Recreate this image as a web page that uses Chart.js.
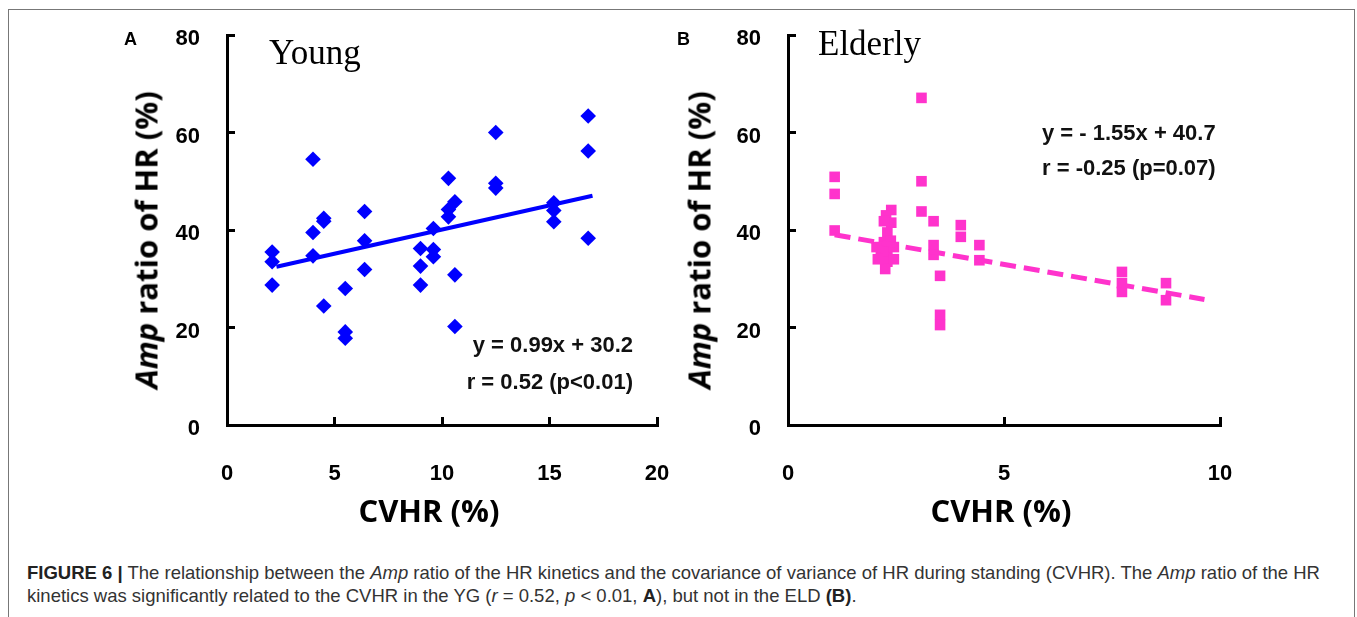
<!DOCTYPE html>
<html>
<head>
<meta charset="utf-8">
<script src="https://cdn.jsdelivr.net/npm/chart.js@4.4.1/dist/chart.umd.min.js"></script>
<style>
  body { margin: 0; background: #fff; }
  #fig { position: relative; width: 1357px; height: 617px; overflow: hidden; background: #fff;
         font-family: "Liberation Sans", Arial, sans-serif; }
  .frame { position: absolute; left: 8px; top: 9px; width: 1345px; height: 700px; border: 1px solid #777; }
  canvas { position: absolute; top: -30px; }
  .txt { position: absolute; white-space: nowrap; line-height: 1; }
  .panel { font-weight: bold; font-size: 18px; color: #000; }
  .group { font-family: "Liberation Serif", "Times New Roman", serif; font-size: 35px; color: #000; }
  .eq { font-weight: bold; font-size: 22px; color: #111; }
  .ytitle, .xtitle { font-family: "Open Sans", sans-serif; font-weight: bold; font-size: 31px; color: #000;
                     transform: translate(-50%, -50%); }
  .ytitle { transform: translate(-50%, -50%) rotate(-90deg); }
  .caption { position: absolute; left: 27px; top: 561px; font-size: 18.5px; line-height: 23px; color: #333; white-space: nowrap; }
  .caption b { color: #222; }
</style>
</head>
<body>
<div id="fig">
  <div class="frame"></div>
  <canvas id="young" width="730" height="570" style="left:0"></canvas>
  <canvas id="elderly" width="657" height="570" style="left:700px"></canvas>

  <div class="txt panel" style="left:124px; top:30px">A</div>
  <div class="txt panel" style="left:677px; top:30px">B</div>
  <div class="txt group" style="left:269px; top:35px">Young</div>
  <div class="txt group" style="left:818px; top:26px">Elderly</div>

  <div class="txt eq" style="right:724px; top:334px">y = 0.99x + 30.2</div>
  <div class="txt eq" style="right:724px; top:371px">r = 0.52 (p&lt;0.01)</div>
  <div class="txt eq" style="left:1042px; top:122px">y = - 1.55x + 40.7</div>
  <div class="txt eq" style="left:1042px; top:157px">r = -0.25 (p=0.07)</div>

  <div class="txt ytitle" style="left:146px; top:240px"><i>Amp</i> ratio of HR (%)</div>
  <div class="txt ytitle" style="left:699px; top:240px"><i>Amp</i> ratio of HR (%)</div>
  <div class="txt xtitle" style="left:429px; top:510px">CVHR (%)</div>
  <div class="txt xtitle" style="left:1001px; top:510px">CVHR (%)</div>

  <div class="caption">
    <b>FIGURE 6 |</b> The relationship between the <i>Amp</i> ratio of the HR kinetics and the covariance of variance of HR during standing (CVHR). The <i>Amp</i> ratio of the HR<br>
    kinetics was significantly related to the CVHR in the YG (<i>r</i> = 0.52, <i>p</i> &lt; 0.01, <b>A</b>), but not in the ELD <b>(B)</b>.
  </div>
</div>

<script>
// Young group: CVHR (%) vs Amp ratio of HR (%)
const youngX = [2.1, 2.1, 2.1, 4.0, 4.0, 4.0, 4.5, 4.5, 4.5, 5.5, 5.5, 5.5,
                6.4, 6.4, 6.4, 9.0, 9.0, 9.0, 9.6, 9.6, 9.6, 10.3, 10.3, 10.3,
                10.6, 10.6, 10.6, 12.5, 12.5, 12.5, 15.2, 15.2, 15.2, 16.8, 16.8, 16.8];
const youngY = [35.5, 33.5, 28.7, 54.5, 39.5, 34.7, 42.4, 41.8, 24.4, 28.0, 19.1, 17.8,
                43.8, 37.8, 31.9, 36.2, 32.6, 28.7, 40.3, 36.0, 34.5, 50.6, 44.2, 42.7,
                45.8, 30.8, 20.2, 60.0, 49.6, 48.6, 45.6, 44.0, 41.7, 63.4, 56.2, 38.3];

// Elderly group
const elderlyX = [1.08, 1.08, 1.08,
                  2.39, 2.27, 2.39, 2.22, 2.30, 2.22, 2.38, 2.15, 2.30, 2.20, 2.30, 2.25, 2.05, 2.08, 2.45, 2.45,
                  3.09, 3.09, 3.09, 3.37, 3.37, 3.37, 3.52, 3.52, 3.52,
                  4.0, 4.0, 4.43, 4.43, 7.73, 7.73, 7.73, 8.75, 8.75];
const elderlyY = [50.9, 47.4, 39.9,
                  44.1, 43.0, 41.5, 41.8, 39.5, 37.5, 37.8, 36.0, 35.5, 34.5, 33.5, 32.0, 36.5, 34.0, 36.5, 34.0,
                  67.1, 50.0, 43.8, 41.8, 36.9, 34.9, 30.6, 22.6, 20.5,
                  41.0, 38.6, 36.9, 33.8, 31.4, 29.1, 27.3, 29.1, 25.6];

// regression lines [slope, intercept] and the x span they cover
const youngFit = [0.99, 30.2];
const youngFitRange = [2.3, 17.0];
const elderlyFit = [-1.55, 40.7];
const elderlyFitRange = [1.08, 9.64];

const yTicks = [0, 20, 40, 60, 80];
const youngXTicks = [0, 5, 10, 15, 20];
const elderlyXTicks = [0, 5, 10];

const BLUE = '#0000ff';
const PINK = '#ff33cc';

function pairs(xs, ys) {
  return xs.map((x, i) => ({ x: x, y: ys[i] }));
}
function fitLine(coef, range) {
  return range.map(x => ({ x: x, y: coef[0] * x + coef[1] }));
}

const tickFont = { family: '"Liberation Sans", Arial, sans-serif', size: 22, weight: 'bold' };

function scale(ticks, horizontal) {
  return {
    type: 'linear',
    min: ticks[0],
    max: ticks[ticks.length - 1],
    afterBuildTicks: s => { s.ticks = ticks.map(v => ({ value: v })); },
    afterFit: s => { if (horizontal) s.height = 70; else s.width = 80; },
    border: { display: true, color: '#000', width: 3 },
    // negative tick length puts the tick marks inside the plot
    grid: { drawOnChartArea: false, drawTicks: true, tickLength: -8, tickWidth: 3, color: '#000' },
    ticks: horizontal
      ? { color: '#000', font: tickFont, padding: 44, maxRotation: 0 }
      : { color: '#000', font: tickFont, padding: 35, labelOffset: 4 },
  };
}

// nudge the layout padding until the plot area sits where we want it
function pinArea(chart, area) {
  for (let k = 0; k < 3; k++) {
    const a = chart.chartArea;
    const pad = chart.config.options.layout.padding;
    chart.config.options.layout.padding = {
      left: pad.left + area.left - a.left,
      top: pad.top + area.top - a.top,
      right: pad.right + a.right - area.right,
      bottom: pad.bottom + a.bottom - area.bottom,
    };
    chart.update();
  }
}

function makePanel(id, opts) {
  const chart = new Chart(document.getElementById(id), {
    type: 'scatter',
    data: {
      datasets: [
        {
          data: fitLine(opts.fit, opts.fitRange),
          showLine: true,
          borderColor: opts.color,
          borderWidth: opts.lineWidth,
          borderDash: opts.dash,
          pointRadius: 0,
        },
        {
          data: pairs(opts.xs, opts.ys),
          pointStyle: opts.marker,
          pointRadius: opts.markerSize,
          backgroundColor: opts.color,
          borderColor: opts.color,
          borderWidth: 0,
        },
      ],
    },
    options: {
      responsive: false,
      animation: false,
      layout: { padding: { left: 60, top: 60, right: 70, bottom: 45 } },
      plugins: { legend: { display: false }, tooltip: { enabled: false } },
      scales: {
        x: scale(opts.xTicks, true),
        y: scale(yTicks, false),
      },
    },
  });
  pinArea(chart, opts.area);
}

// canvases sit 30px above the page top, so plot areas are given in canvas coordinates
makePanel('young', {
  xs: youngX, ys: youngY, fit: youngFit, fitRange: youngFitRange,
  xTicks: youngXTicks, color: BLUE, marker: 'rectRot', markerSize: 7.8,
  lineWidth: 4, dash: [],
  area: { left: 227, top: 65, right: 657, bottom: 455 },
});

makePanel('elderly', {
  xs: elderlyX, ys: elderlyY, fit: elderlyFit, fitRange: elderlyFitRange,
  xTicks: elderlyXTicks, color: PINK, marker: 'rect', markerSize: 7.5,
  lineWidth: 5, dash: [16, 8],
  area: { left: 88, top: 65, right: 520, bottom: 455 },
});
</script>
</body>
</html>
